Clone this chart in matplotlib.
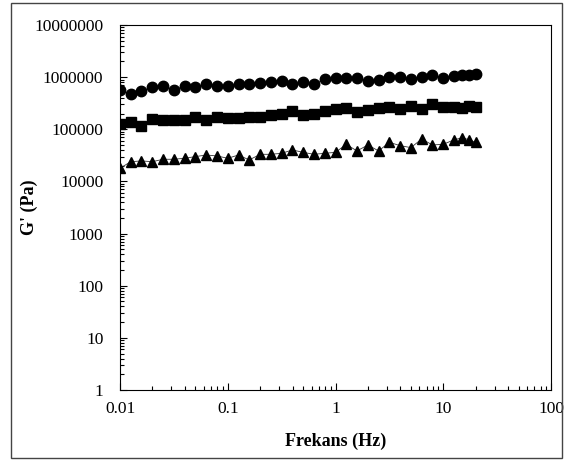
import matplotlib.pyplot as plt
from matplotlib.patches import Rectangle
from matplotlib.ticker import FixedLocator, FuncFormatter, LogLocator, NullFormatter

plt.rcParams['font.family'] = ['Liberation Serif', 'DejaVu Serif']

# frequency (Hz)
freq = [0.01, 0.0126, 0.0158, 0.02, 0.0251, 0.0316, 0.0398, 0.0501, 0.0631, 0.0794,
        0.1, 0.126, 0.158, 0.2, 0.251, 0.316, 0.398, 0.501, 0.631, 0.794,
        1.0, 1.26, 1.58, 2.0, 2.51, 3.16, 3.98, 5.01, 6.31, 7.94,
        10.0, 12.5, 15.0, 17.5, 20.0]

# G' values (Pa)
g_circle = [5.68e5, 4.70e5, 5.43e5, 6.40e5, 6.86e5, 5.68e5, 6.76e5, 6.40e5, 7.40e5, 6.76e5,
            6.76e5, 7.29e5, 7.50e5, 7.64e5, 8.18e5, 8.55e5, 7.29e5, 7.96e5, 7.50e5, 9.10e5,
            9.51e5, 9.51e5, 9.77e5, 8.43e5, 8.93e5, 1.02e6, 9.93e5, 9.23e5, 9.93e5, 1.10e6,
            9.51e5, 1.07e6, 1.10e6, 1.10e6, 1.13e6]
g_square = [1.25e5, 1.40e5, 1.17e5, 1.56e5, 1.49e5, 1.49e5, 1.51e5, 1.70e5, 1.49e5, 1.75e5,
            1.63e5, 1.63e5, 1.72e5, 1.72e5, 1.91e5, 1.99e5, 2.24e5, 1.88e5, 1.94e5, 2.24e5,
            2.45e5, 2.60e5, 2.18e5, 2.34e5, 2.52e5, 2.72e5, 2.45e5, 2.84e5, 2.45e5, 3.01e5,
            2.72e5, 2.72e5, 2.60e5, 2.84e5, 2.72e5]
g_triangle = [1.79e4, 2.39e4, 2.47e4, 2.39e4, 2.66e4, 2.66e4, 2.78e4, 2.99e4, 3.21e4, 3.08e4,
              2.78e4, 3.21e4, 2.58e4, 3.31e4, 3.31e4, 3.46e4, 4.01e4, 3.61e4, 3.31e4, 3.46e4,
              3.61e4, 5.15e4, 3.84e4, 5.00e4, 3.84e4, 5.62e4, 4.85e4, 4.45e4, 6.52e4, 5.00e4,
              5.15e4, 6.24e4, 6.90e4, 6.24e4, 5.62e4]

x_ticks = [0.01, 0.1, 1, 10, 100]
y_ticks = [1, 10, 100, 1000, 10000, 100000, 1000000, 10000000]

fig = plt.figure(figsize=(5.72, 4.67), dpi=100)
ax = fig.add_axes([0.2098, 0.1649, 0.7535, 0.7816])

for g, m in [(g_circle, 'o'), (g_square, 's'), (g_triangle, '^')]:
    ax.plot(freq, g, color='#333333', linewidth=0.6, marker=m, markersize=7.5,
            markerfacecolor='black', markeredgecolor='black')

ax.set_xscale('log')
ax.set_yscale('log')
ax.set_xlim(0.01, 100)
ax.set_ylim(1, 10000000)

ax.xaxis.set_major_locator(FixedLocator(x_ticks))
ax.yaxis.set_major_locator(FixedLocator(y_ticks))
ax.xaxis.set_minor_locator(LogLocator(base=10, subs=range(2, 10)))
ax.yaxis.set_minor_locator(LogLocator(base=10, subs=range(2, 10)))
ax.xaxis.set_minor_formatter(NullFormatter())
ax.yaxis.set_minor_formatter(NullFormatter())
ax.xaxis.set_major_formatter(FuncFormatter(lambda v, p: ('%g' % v)))
ax.yaxis.set_major_formatter(FuncFormatter(lambda v, p: ('%d' % round(v))))

ax.tick_params(which='both', direction='in', top=False, right=False,
               labelsize=12.5, width=0.8)
ax.tick_params(which='major', length=5)
ax.tick_params(which='minor', length=3)
ax.tick_params(axis='y', which='major', pad=12)
ax.tick_params(axis='x', which='major', pad=8)
for s in ax.spines.values():
    s.set_linewidth(0.8)

ax.set_xlabel('Frekans (Hz)', fontsize=13, fontweight='bold')
ax.set_ylabel("G' (Pa)", fontsize=13, fontweight='bold')
ax.xaxis.set_label_coords(0.5, -0.118)
ax.yaxis.set_label_coords(-0.19, 0.5)

fig.patches.append(Rectangle((11 / 572, 1 - 458 / 467), 551 / 572, 455 / 467,
                             transform=fig.transFigure, fill=False,
                             edgecolor='#444444', linewidth=1.0))

fig.savefig('out.png', dpi=100)
